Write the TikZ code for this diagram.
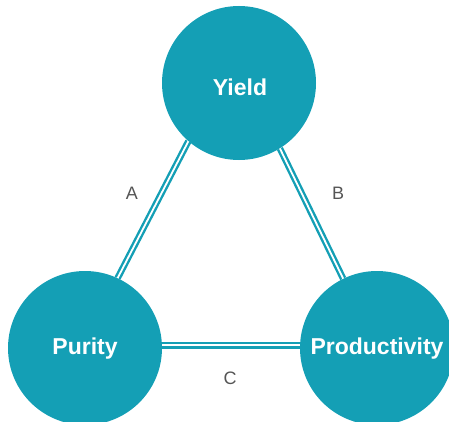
\documentclass[tikz,border=0pt]{standalone}
\usepackage{fontspec}
\setmainfont{Liberation Sans}
\definecolor{teal1}{RGB}{20,159,181}
\definecolor{lbl}{RGB}{85,85,85}
\begin{document}
\begin{tikzpicture}[x=1pt,y=1pt,
  hub/.style={circle,fill=teal1,draw=none,minimum size=154pt,inner sep=0pt},
  hubtext/.style={text=white,font=\fontsize{23}{25}\selectfont\bfseries},
  link/.style={draw=teal1,double=white,double distance=1.8pt,line width=2.4pt},
  tag/.style={text=lbl,font=\fontsize{18}{20}\selectfont}]
\useasboundingbox (0,0) rectangle (449,421);
\node[hub] (yield) at (239,338) {};
\node[hub] (purity) at (85,73) {};
\node[hub] (prod) at (377,73) {};
\node[hubtext] (yieldt) at (240,334) {Yield};
\node[hubtext] (purityt) at (85,72) {Purity};
\node[hubtext] (prodt) at (377,72) {Productivity};
\draw[link] (yield.229) -- (purity.65);
\draw[link] (yield.302) -- (prod.116);
\draw[link] (purity.2) -- (prod.178);
\node[tag] (a) at (132,228) {A};
\node[tag] (b) at (338,228) {B};
\node[tag] (c) at (230,43) {C};
\end{tikzpicture}
\end{document}
